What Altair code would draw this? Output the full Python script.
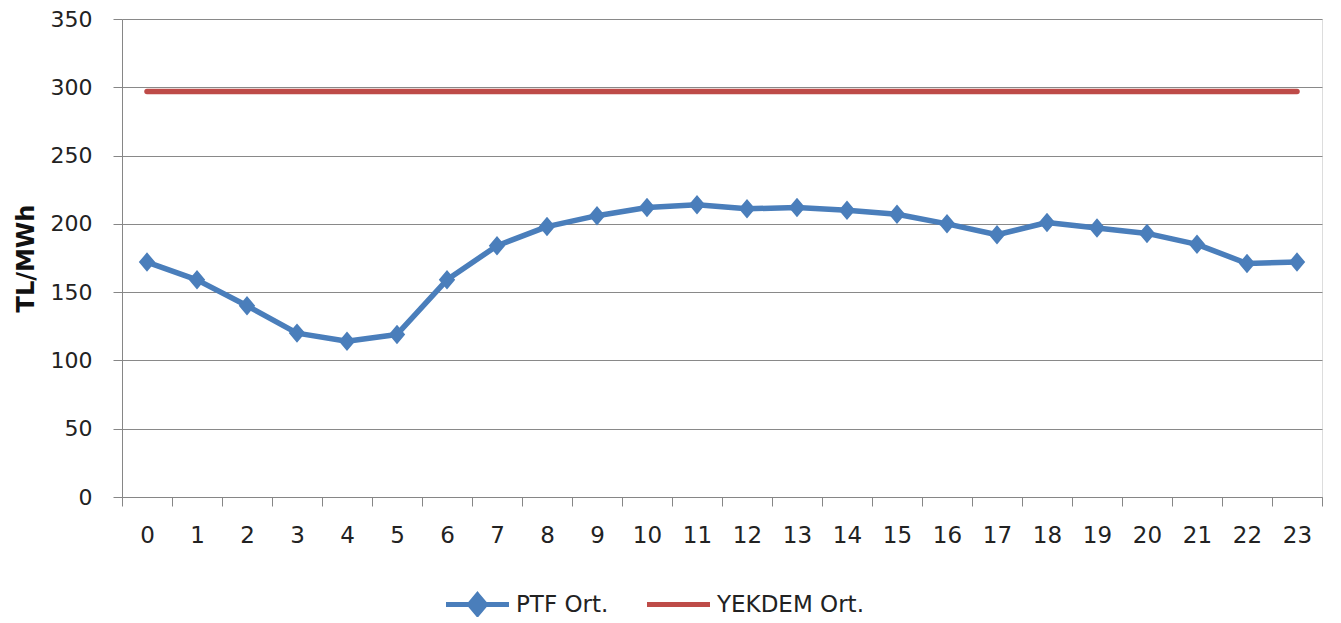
import altair as alt
import pandas as pd

hours = list(range(24))
ptf = [172, 159, 140, 120, 114, 119, 159, 184, 198, 206, 212, 214,
       211, 212, 210, 207, 200, 192, 201, 197, 193, 185, 171, 172]
yekdem = [297] * 24
series_names = ["PTF Ort.", "YEKDEM Ort."]
colors = ["#4a7ebb", "#be4b48"]
y_ticks = [0, 50, 100, 150, 200, 250, 300, 350]

df = pd.DataFrame({
    "hour": hours * 2,
    "value": ptf + yekdem,
    "series": [series_names[0]] * 24 + [series_names[1]] * 24,
})

FONT = "DejaVu Sans"
line_diamond = "M-3.15,0L3.15,0M0,-0.95L0.8,0L0,0.95L-0.8,0Z"
line_only = "M0,-0.95L0,-0.95M-3.15,0L3.15,0M0,0.95L0,0.95"

x_enc = alt.X(
    "hour:O",
    scale=alt.Scale(type="band", paddingInner=0, paddingOuter=0),
    axis=alt.Axis(
        title=None, labelAngle=0, tickBand="extent", grid=False,
        tickSize=9, tickColor="#868686", domainColor="#868686",
        labelFont=FONT, labelFontSize=23, labelColor="#222222",
        labelPadding=18,
    ),
)
y_enc = alt.Y(
    "value:Q",
    scale=alt.Scale(domain=[0, 350], nice=False),
    axis=alt.Axis(
        title="TL/MWh", values=y_ticks, grid=True, gridColor="#898989",
        tickSize=9, tickColor="#868686", domainColor="#868686",
        labelFont=FONT, labelFontSize=22, labelColor="#222222",
        labelPadding=21, titleFont=FONT, titleFontSize=24,
        titleFontWeight="bold", titleColor="#111111", titlePadding=12,
    ),
)
legend_def = alt.Legend(
    title=None, orient="none", direction="horizontal",
    legendX=343, legendY=573, symbolSize=400, symbolStrokeWidth=5,
    labelFont=FONT, labelFontSize=23, labelColor="#222222",
    labelOffset=26, columnPadding=28,
)
color_enc = alt.Color(
    "series:N",
    scale=alt.Scale(domain=series_names, range=colors),
    legend=legend_def,
)

lines = alt.Chart(df).mark_line(strokeWidth=5.5, strokeCap="round", strokeJoin="round").encode(
    x=x_enc, y=y_enc, color=color_enc,
)
points = alt.Chart(df).transform_filter(
    alt.datum.series == series_names[0]
).mark_point(filled=True, size=420, opacity=1).encode(
    x=x_enc, y=y_enc, color=color_enc,
    shape=alt.Shape("series:N",
                    scale=alt.Scale(domain=series_names, range=[line_diamond, line_only]),
                    legend=legend_def),
)

chart = alt.layer(lines, points).properties(
    width=1200, height=478,
    autosize=alt.AutoSizeParams(type="none"),
    padding={"left": 114, "top": 11, "right": 10, "bottom": 120},
).configure_view(stroke=None).configure(background="white")

chart.save("out.html", embed_options={"renderer": "svg", "actions": False})
